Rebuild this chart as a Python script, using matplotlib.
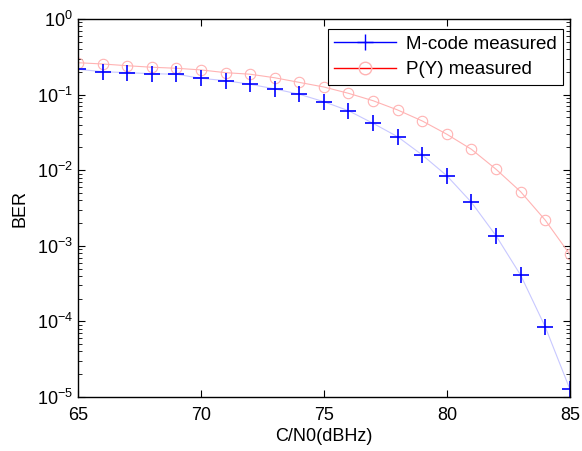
import numpy as np
import matplotlib
matplotlib.use("Agg")
import matplotlib.pyplot as plt
from matplotlib.lines import Line2D
from matplotlib.ticker import LogLocator, NullFormatter

plt.rcParams['font.family'] = ['Liberation Sans', 'DejaVu Sans']
plt.rcParams['mathtext.fontset'] = 'custom'
plt.rcParams['mathtext.rm'] = 'Liberation Sans'

cn0 = np.arange(65, 86)
ber_mcode = [0.216, 0.201, 0.195, 0.189, 0.186, 0.164, 0.153, 0.137, 0.119, 0.101,
             0.0805, 0.0612, 0.0417, 0.0277, 0.0159, 0.00845, 0.00376, 0.00136,
             4.1e-4, 8.5e-5, 1.28e-5]
ber_py = [0.264, 0.254, 0.241, 0.230, 0.223, 0.212, 0.195, 0.186, 0.167, 0.145,
          0.126, 0.104, 0.083, 0.0626, 0.0448, 0.0299, 0.0189, 0.0103,
          0.0052, 0.00219, 7.7e-4]

fig = plt.figure(figsize=(5.82, 4.51), dpi=100)
ax = fig.add_axes([0.134, 0.1197, 0.845, 0.8382])

# light connecting lines, markers on top
ax.plot(cn0, ber_py, color='#ffb3b3', lw=0.8, marker='o', ms=7.5,
        mfc='none', mec='#ffb3b3', mew=0.8)
ax.plot(cn0, ber_mcode, color='#c8c8ff', lw=0.8)
ax.plot(cn0, ber_mcode, ls='none', marker='+', ms=11, mec='#0000ff', mew=1.2)

ax.set_yscale('log')
ax.set_xlim(65, 85)
ax.set_ylim(1e-5, 1)
ax.set_xticks([65, 70, 75, 80, 85])
ax.yaxis.set_major_locator(LogLocator(base=10, numticks=10))
ax.yaxis.set_minor_locator(LogLocator(base=10, subs=np.arange(2, 10), numticks=20))
ax.yaxis.set_minor_formatter(NullFormatter())
ax.tick_params(which='both', direction='in', top=True, right=True, labelsize=13)
ax.tick_params(axis='x', pad=7)
ax.tick_params(which='major', length=5)
ax.tick_params(which='minor', length=3)
for s in ax.spines.values():
    s.set_linewidth(1.0)

ax.set_xlabel('C/N0(dBHz)', fontsize=13, labelpad=3)
ax.set_ylabel('BER', fontsize=13, labelpad=6)

handles = [
    Line2D([], [], color='#0000ff', lw=1, marker='+', ms=11, mew=1),
    Line2D([], [], color='#ff0000', lw=1, marker='o', ms=9, mfc='none', mec='#ffb3b3'),
]
leg = ax.legend(handles, ['M-code measured', 'P(Y) measured'], loc='upper right',
                bbox_to_anchor=(563 / 582, 1 - 29 / 451), bbox_transform=fig.transFigure,
                fontsize=13.5, fancybox=False, framealpha=1, edgecolor='black',
                borderaxespad=0, handlelength=3.3, borderpad=0.35, labelspacing=0.45,
                handletextpad=0.5)
leg.get_frame().set_linewidth(0.8)

fig.savefig('out.png', dpi=100)
